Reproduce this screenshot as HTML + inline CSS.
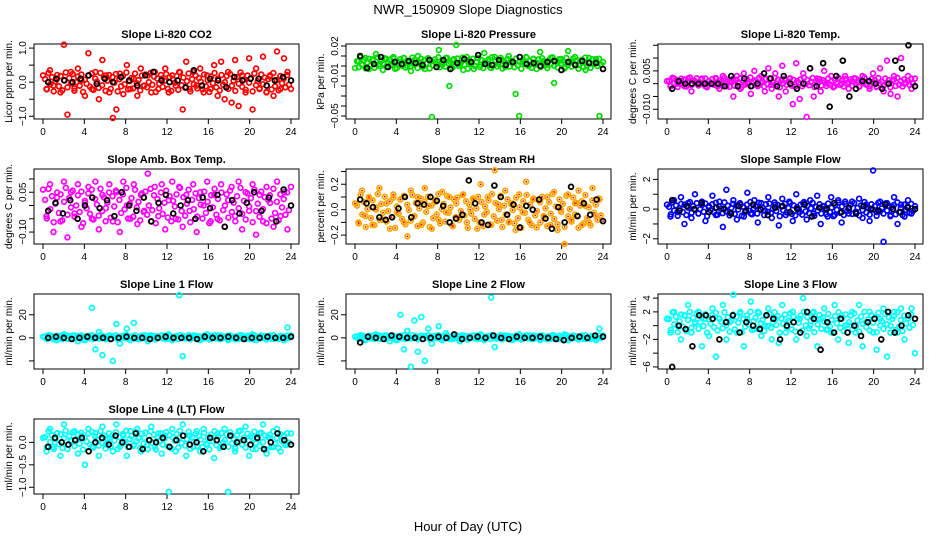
<!DOCTYPE html>
<html><head><meta charset="utf-8">
<style>
body{margin:0;background:#fff;}
svg{display:block;font-family:"Liberation Sans",sans-serif;}
</style></head>
<body>
<svg id="chart" width="936" height="540" viewBox="0 0 936 540" xmlns="http://www.w3.org/2000/svg">
<rect width="936" height="540" fill="#fff"/>
<text x="468" y="14" text-anchor="middle" font-size="13">NWR_150909  Slope Diagnostics</text>
<text x="468" y="531" text-anchor="middle" font-size="13">Hour of Day (UTC)</text>
</svg>
<script>
const hourTicks=[0,4,8,12,16,20,24];
const titles=["Slope Li-820 CO2","Slope Li-820 Pressure","Slope Li-820 Temp.","Slope Amb. Box Temp.","Slope Gas Stream RH","Slope Sample Flow","Slope Line 1 Flow","Slope Line 2 Flow","Slope Line 3 Flow","Slope Line 4 (LT) Flow"];
const yTitles=["Licor ppm per min.","kPa per min.","degrees C per min.","degrees C per min.","percent per min.","ml/min per min.","ml/min per min.","ml/min per min.","ml/min per min.","ml/min per min."];
const yRanges=[[-1.08,1.12],[-0.053,0.022],[-0.0138,0.0155],[-0.145,0.1375],[-0.27,0.32],[-2.35,2.7],[-27,38],[-27,38],[-6.3,4.6],[-1.15,0.52]];
const yTicks=[[-1,-0.5,0,0.5,1],[-0.05,-0.04,-0.03,-0.02,-0.01,0,0.01,0.02],[-0.01,-0.005,0,0.005,0.01,0.015],[-0.1,-0.05,0,0.05,0.1],[-0.2,-0.1,0,0.1,0.2,0.3],[-2,-1,0,1,2],[-20,0,20],[-20,0,20],[-6,-4,-2,0,2,4],[-1,-0.5,0]];
const yLabels=[["-1.0","","0.0","","1.0"],["-0.05","","","","-0.01","","","0.02"],["-0.010","","","0.005","",""],["-0.10","","","0.05",""],["-0.2","","0.0","","0.2",""],["-2","","0","","2"],["","0","20"],["","0","20"],["-6","","-2","","2","4"],["-1.0","-0.5","0.0"]];
const colors=["#ff0000","#00dd00","#ff00ff","#ff00ff","#ffa500","#0000ff","#00ffff","#00ffff","#00ffff","#00ffff"];
const bandCenter=[0.0,0.003,0.0005,0.0,-0.01,0.0,0.5,0.5,0.5,0.05];
const bandSpread=[0.3,0.006,0.002,0.07,0.14,0.5,2,2,1.6,0.22];
const bandNoise=[0.3,-0.7,0.9,-0.2,0.5,-0.9,0.1,0.7,-0.4,0.6,-0.8,0.2,0.95,-0.5,0.4,-0.1,0.8,-0.6,0.0,0.55,-0.35,0.75,-0.95,0.25,-0.15,0.65,-0.45,0.85,-0.75,0.35,0.05,-0.55,0.9,-0.3,0.45,-0.85,0.15,0.7,-0.65,0.5,-0.05,0.8,-0.9,0.3,-0.4,0.6,-0.2,0.95,-0.7,0.1,0.4,-0.6,0.85,-0.1,0.2,-0.8,0.65,-0.35,0.75,-0.5,0.0,0.9,-0.25,0.55,-0.95,0.35,-0.15,0.7,-0.45,0.15,0.8,-0.65,0.5,-0.85,0.25,-0.05,0.6,-0.75,0.95,-0.3,0.45,-0.55,0.1,0.85,-0.9,0.3,-0.2,0.65,-0.6,0.4,0.05,-0.7,0.75,-0.4,0.2,-0.95,0.55,-0.1,0.9,-0.5,0.35,-0.8,0.7,-0.25,0.0,0.6,-0.65,0.8,-0.35,0.15,-0.85,0.5,-0.15,0.95,-0.45,0.25,-0.75,0.65,-0.05,0.4,-0.9,0.85,-0.3,0.1,-0.6,0.75,-0.2,0.45,-0.95,0.3,0.55,-0.7,0.9,-0.4,0.2,-0.8,0.6,-0.1,0.35,-0.5,0.7,-0.25];
const s0=[0.2,-0.2,0.35,-0.1,0.1,-0.3,1.1,-0.95,0.3,-0.25,0.4,0.05,-0.4,0.85,-0.2,0.3,-0.5,0.65,0.2,-0.3,-1.05,-0.8,0.25,-0.35,0.5,-0.2,0.1,-0.4,0.4,-0.1,0.2,-0.3,0.3,-0.2,0.1,0.4,-0.3,0.2,-0.1,0.3,-0.8,0.6,-0.2,0.3,-0.1,0.4,-0.3,0.2,-0.2,0.5,-0.4,0.6,-0.5,0.3,-0.6,0.65,-0.7,0.2,-0.3,0.7,-0.8,0.4,-0.2,0.75,-0.3,0.2,-0.4,0.9,-0.2,0.7,0.3,-0.2];
const b0=[0,0.1,0.05,0,0.1,0.2,-0.05,0.1,0,0.15,0.05,-0.1,0.2,0.3,0.05,0,0.05,-0.15,0.35,-0.1,0.1,0.05,-0.15,0.15,0.05,0.1,0.1,-0.1,0.05,0.15,0.05];
const s1=[-0.002,0.005,0.001,0.008,-0.003,0.006,0.012,0.002,-0.004,0.007,0.001,0.009,-0.002,0.004,0.008,0.000,-0.005,0.006,0.010,0.002,-0.003,0.007,-0.051,0.004,0.016,0.001,0.008,-0.020,0.006,0.021,0.002,-0.004,0.009,0.003,-0.003,0.008,0.001,0.013,0.005,-0.002,0.009,0.002,0.006,-0.001,0.010,0.003,-0.028,-0.050,0.004,0.009,0.001,0.007,-0.003,0.014,0.005,0.001,0.008,-0.017,0.003,0.007,-0.001,0.015,0.004,0.009,0.001,0.006,-0.004,0.008,0.002,0.007,-0.050,0.004];
const b1=[0.01,-0.002,0.002,0.009,-0.001,0.004,0.002,0.005,0.003,0.001,0.006,-0.001,0.006,-0.003,0.003,0.007,0.004,0.011,0.002,0.001,0.006,0.001,0.004,0.009,0.002,0.003,0,0.004,0.005,-0.004,0.004,0.001,0.005,0.003,0.003,-0.003];
const s2=[0.001,-0.001,0.002,0.000,0.001,-0.001,0.002,-0.003,0.001,0.000,0.002,-0.001,0.001,0.000,0.002,-0.002,0.003,-0.001,0.001,-0.005,0.003,-0.002,0.004,0.000,-0.004,0.005,-0.001,0.003,-0.003,0.006,-0.002,0.004,-0.005,0.007,-0.003,0.002,-0.008,0.008,-0.006,0.004,-0.013,0.006,-0.005,0.002,-0.003,0.005,0.000,0.003,-0.001,0.002,0.000,0.003,-0.002,0.001,0.002,-0.001,0.003,0.000,-0.002,0.004,-0.001,0.006,-0.003,0.009,-0.004,0.003,-0.005,0.010,0.000,0.003,-0.002,0.002];
const b2=[-0.002,0.001,0.000,0.000,0.000,0.000,0.000,0.000,-0.001,0.003,-0.001,0.002,-0.001,0.000,0.004,0.002,-0.001,0.003,0.000,-0.002,0.000,0.006,-0.001,0.008,-0.009,0.003,0.009,-0.005,-0.002,0.001,0.001,0.000,-0.002,0.000,0.009,0.006,0.015,-0.001];
const s3=[0.06,-0.04,0.08,-0.1,0.03,-0.06,0.09,-0.12,0.05,-0.03,0.08,-0.08,0.01,0.07,-0.05,0.09,-0.09,0.04,-0.01,0.08,-0.06,0.05,-0.1,0.09,0.00,-0.05,0.08,-0.07,0.04,-0.02,0.12,-0.06,0.07,-0.04,0.08,-0.09,0.02,0.09,-0.05,0.07,-0.08,0.04,-0.02,0.08,-0.1,0.05,0.00,0.09,-0.06,0.04,-0.05,0.08,-0.08,0.02,0.07,-0.04,0.09,-0.09,0.05,-0.02,0.08,-0.11,0.04,-0.06,0.07,0.01,-0.08,0.09,-0.04,0.05,-0.09,0.07];
const b3=[-0.02,0.01,-0.03,0.02,-0.05,0.00,0.03,-0.01,0.02,-0.04,0.05,0.00,-0.02,0.03,-0.06,0.01,0.04,-0.03,0.00,0.02,-0.05,0.03,-0.01,0.04,-0.08,0.02,-0.03,0.01,0.05,-0.02,0.03,-0.06,0.06,0.00];
const s4=[0.05,-0.1,0.15,-0.05,0.1,-0.12,0.0,0.17,-0.08,0.05,-0.15,0.12,-0.02,0.08,-0.1,-0.21,0.15,-0.05,0.1,-0.12,0.17,0.03,-0.15,0.06,-0.08,0.14,-0.02,0.1,-0.13,0.05,-0.06,0.12,-0.1,0.0,0.08,-0.15,0.2,-0.04,0.1,-0.12,0.31,0.04,-0.08,0.15,-0.1,0.05,-0.16,0.12,-0.02,0.22,-0.1,0.08,-0.14,0.06,-0.05,0.1,-0.12,0.14,-0.16,0.0,-0.27,0.12,-0.08,0.05,0.15,-0.12,0.03,-0.1,0.17,-0.05,0.08,-0.09];
const b4=[0.08,0.05,0.02,-0.06,-0.08,-0.06,0.01,0.1,-0.06,0.05,0.04,0.1,0.07,0.03,-0.1,-0.07,-0.04,0.23,0.05,-0.1,-0.12,0.19,0.10,-0.04,0.04,-0.14,0.03,0.0,0.08,-0.07,-0.15,0.02,-0.1,0.18,-0.05,0.05,-0.04,0.08,-0.09];
const s5=[0.3,-0.5,0.6,-0.2,0.8,-1.0,0.4,-0.6,1.0,-0.3,0.5,-0.8,0.2,0.9,-0.4,0.5,-1.2,1.3,-0.2,0.6,-0.7,0.3,-0.5,1.1,-0.3,0.6,-0.9,0.4,-0.1,0.8,-0.6,0.3,-1.1,0.7,-0.4,0.5,-0.8,1.0,-0.2,0.4,-0.7,0.6,-0.3,0.9,-1.0,0.2,-0.5,0.8,-0.4,0.6,-0.9,0.5,-0.3,0.5,-0.2,0.7,-0.6,0.3,-0.8,2.6,-0.2,0.5,-2.2,0.4,-0.4,0.8,-1.0,0.3,-0.5,0.6,-0.3,0.2];
const b5=[0.6,-0.1,0.2,0.0,0.4,-0.2,0.1,0.0,-0.3,0.2,-0.1,0.3,0.0,-0.4,0.1,0.2,-0.2,0.0,0.3,-0.5,0.1,0.0,0.4,-0.2,0.1,-0.3,0.2,0.0,-0.1,0.3,0.0,-0.2,0.1,0.0];
const s6=[1,-1,2,0,-2,1,3,-1,0,2,-3,1,-2,1,26,-10,5,-15,0,2,-20,12,-5,1,8,-2,13,-1,0,2,-3,1,-1,0,2,-1,3,-2,1,37,-16,0,-1,2,0,-2,1,3,-1,0,2,-1,1,-2,0,1,-1,2,0,-1,3,-2,1,0,-1,2,-1,0,1,-2,9,2];
const b6=[0,1,0,-1,0,1,0,0,-1,0,1,0,0,-1,0,1,0,0,0,-1,1,0,0,1,0,-1,0,0,1,0,0,1];
const s7=[1,-1,2,-2,0,1,3,-1,0,2,-3,1,-2,20,-10,6,-25,15,-12,18,-20,8,-5,1,10,-2,4,-1,0,2,-3,1,-1,0,2,-1,3,-2,1,35,-8,0,-1,2,0,-2,1,3,-1,0,2,-1,1,-2,0,1,-1,2,0,-1,3,-2,1,0,-1,2,-1,0,1,-2,8,2];
const b7=[-4,1,0,-1,2,1,0,0,-1,0,1,0,3,-1,0,1,0,2,0,-1,1,0,0,1,0,-1,-2,0,1,0,2,1];
const s8=[1,-1,2,0,-2,1.5,3,-1,0.5,2,-3,1,-1.5,2.5,-4.5,1,3,-2,0.5,4.5,-1,2,-3,1,3.5,-0.5,2,-1.5,0,2.5,-2,1,-2.5,3,-1,0.5,2,-2,1,4,-1.5,0,2,-3,1,2.5,-0.5,-1,3,-2,1.5,0,-2.5,2,-1,3,-3,0.5,2,-1,-3.5,1,2.5,-4.5,0,2,-1,2.5,-2,1,2.5,-4];
const b8=[-6,0,-0.5,-3,1.5,1.5,1,-2,0.5,1.5,-1,0.5,0,-0.5,1.5,1,-2,0,0.5,-1,2,1,-3.5,0.5,-1,1,-1,0,-1.5,0.5,1,-2,2,-1,0,1.5,1];
const s9=[0.1,-0.2,0.3,-0.1,0.2,-0.3,0.4,-0.15,0.05,0.25,-0.25,0.15,-0.5,0.3,-0.1,0.2,-0.3,0.35,-0.05,0.1,-0.2,0.4,-0.1,0.15,-0.3,0.25,-0.05,0.3,-0.2,0.1,-0.15,0.35,-0.1,0.2,-0.25,0.15,-1.1,0.3,-0.2,0.1,0.4,-0.3,0.15,-0.1,0.25,-0.2,0.3,-0.05,0.1,-0.35,0.2,-0.1,0.3,-1.1,0.15,-0.2,0.25,-0.05,0.35,-0.3,0.1,-0.15,0.2,0.4,-0.25,0.1,-0.1,0.3,-0.2,0.15,-0.05,0.2];
const b9=[-0.1,0.1,0.0,-0.05,0.05,0.1,-0.2,0.0,0.1,-0.05,0.15,0.0,-0.1,0.2,-0.15,0.05,0.0,0.1,-0.1,0.05,0.15,-0.05,0.0,-0.2,0.1,0.05,-0.1,0.15,0.0,0.05,-0.05,0.1,-0.15,0.0,0.2,0.05,-0.05];
const series=[s0,s1,s2,s3,s4,s5,s6,s7,s8,s9];
const blacks=[b0,b1,b2,b3,b4,b5,b6,b7,b8,b9];

const NS="http://www.w3.org/2000/svg";
const svg=document.getElementById('chart');
const colLeft=[34,346,658], rowTop=[44,169,294,419], boxW=265, boxH=75;
function mk(tag,attrs,parent){const e=document.createElementNS(NS,tag);for(const k in attrs)e.setAttribute(k,attrs[k]);(parent||svg).appendChild(e);return e;}

for(let p=0;p<10;p++){
  const L=colLeft[p%3], T=rowTop[Math.floor(p/3)];
  const g=mk('g',{});
  
  
  const xs=h=>L+9+h*(boxW-17)/24;
  const [y0,y1]=yRanges[p];
  const ys=v=>T+boxH-(v-y0)/(y1-y0)*boxH;
  const box=mk('rect',{x:L,y:T,width:boxW,height:boxH,fill:'none',stroke:'#000','stroke-width':1},g);
  
  
  const tt=mk('text',{x:L+boxW/2,y:T-6,'text-anchor':'middle','font-size':11,'font-weight':'bold'},g);
  tt.textContent=titles[p];
  
  
  const yt=mk('text',{x:0,y:0,'text-anchor':'middle','font-size':10,transform:`translate(${L-22},${T+boxH/2}) rotate(-90)`},g);
  yt.textContent=yTitles[p];
  
  
  hourTicks.forEach(h=>{
    const x=xs(h);
    mk('line',{x1:x,x2:x,y1:T+boxH,y2:T+boxH+5,stroke:'#000'},g);
    const t=mk('text',{x:x,y:T+boxH+16,'text-anchor':'middle','font-size':10},g);
    t.textContent=h;
    
    
  });
  yTicks[p].forEach((v,i)=>{
    const y=ys(v);
    mk('line',{x1:L-5,x2:L,y1:y,y2:y,stroke:'#000'},g);
    if(yLabels[p][i]){
      const t=mk('text',{x:0,y:0,'text-anchor':'middle','font-size':10,transform:`translate(${L-8},${y}) rotate(-90)`},g);
      t.textContent=yLabels[p][i].replace('-','\u2212');
      
      
    }
  });
  const dot=(x,y)=>{
    const c=mk('circle',{cx:x,cy:y,r:2.4,fill:'none',stroke:colors[p],'stroke-width':1.7},g);
    
    
    if(p===4){mk('circle',{cx:x,cy:y,r:0.9,fill:'#ff0000'},g);}
  };
  const nb=bandNoise.length;
  bandNoise.forEach((v,i)=>{
    dot(xs(0.2+i*23.6/(nb-1)), ys(bandCenter[p]+v*bandSpread[p]));
  });
  const s=series[p], n=s.length;
  s.forEach((v,i)=>dot(xs(i*24/(n-1)),ys(v)));
  const b=blacks[p], m=b.length;
  b.forEach((v,i)=>{
    const c=mk('circle',{cx:xs(0.5+i*23.5/(m-1)),cy:ys(v),r:2.4,fill:'none',stroke:'#000','stroke-width':1.8},g);
    
    
  });
}
</script>
</body></html>
